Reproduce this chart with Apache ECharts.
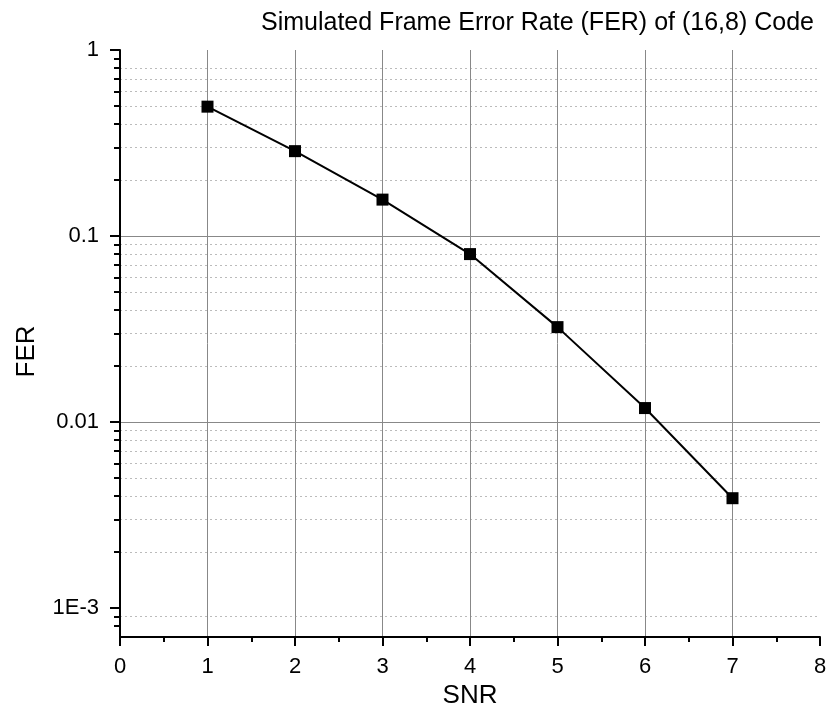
<!DOCTYPE html>
<html>
<head>
<meta charset="utf-8">
<script src="https://cdn.jsdelivr.net/npm/echarts@6/dist/echarts.min.js"></script>
<style>html,body{margin:0;padding:0;background:#fff;}#c{width:829px;height:705px;}</style>
</head>
<body>
<div id="c"></div>
<script>
var snr = [1, 2, 3, 4, 5, 6, 7];
var fer = [0.496, 0.286, 0.157, 0.080, 0.0324, 0.0119, 0.0039];
var majorY = [0.001, 0.01, 0.1, 1];
var minorY = [
  0.0008, 0.0009,
  0.002, 0.003, 0.004, 0.005, 0.006, 0.007, 0.008, 0.009,
  0.02, 0.03, 0.04, 0.05, 0.06, 0.07, 0.08, 0.09,
  0.2, 0.3, 0.4, 0.5, 0.6, 0.7, 0.8, 0.9
];

function yLabel(v) {
  if (Math.abs(v - 0.001) < 1e-9) return '1E-3';
  if (Math.abs(v - 0.01) < 1e-9) return '0.01';
  if (Math.abs(v - 0.1) < 1e-9) return '0.1';
  if (Math.abs(v - 1) < 1e-9) return '1';
  return '';
}

var font = 'Liberation Sans, Arial, sans-serif';
var chart = echarts.init(document.getElementById('c'));
chart.setOption({
  animation: false,
  title: {
    text: 'Simulated Frame Error Rate (FER) of (16,8) Code',
    left: 256, top: 6,
    textStyle: {fontFamily: font, fontSize: 25, fontWeight: 'normal', color: '#000'}
  },
  grid: {left: 120, right: 9, top: 50, bottom: 68, containLabel: false, outerBoundsMode: 'none'},
  xAxis: {
    type: 'value', min: 0, max: 8, interval: 1,
    name: 'SNR', nameLocation: 'middle', nameGap: 41,
    nameTextStyle: {fontFamily: font, fontSize: 26, color: '#000'},
    axisLine: {lineStyle: {color: '#000', width: 2}},
    axisTick: {show: true, inside: false, length: 9, lineStyle: {color: '#000', width: 2}},
    minorTick: {show: true, splitNumber: 2, length: 5, lineStyle: {color: '#000', width: 2}},
    axisLabel: {fontFamily: font, fontSize: 22, color: '#000', margin: 19},
    splitLine: {show: true, showMinLine: false, showMaxLine: false, lineStyle: {color: '#888', width: 1}}
  },
  yAxis: [{
    type: 'log', logBase: 10, min: 0.0007, max: 1,
    name: 'FER', nameLocation: 'middle', nameGap: 80,
    nameTextStyle: {fontFamily: font, fontSize: 26, color: '#000', padding: [0, 16, 0, 0]},
    axisLine: {lineStyle: {color: '#000', width: 2}},
    axisTick: {show: true, length: 10, customValues: majorY, lineStyle: {color: '#000', width: 2}},
    axisLabel: {fontFamily: font, fontSize: 22, color: '#000', margin: 21, customValues: majorY,
      formatter: yLabel},
    splitLine: {show: true, showMinLine: false, showMaxLine: false, lineStyle: {color: '#888', width: 1}}
  }, {
    type: 'log', logBase: 10, min: 0.0007, max: 1, position: 'left',
    axisLine: {show: false},
    axisTick: {show: true, length: 6, customValues: minorY, lineStyle: {color: '#000', width: 2}},
    axisLabel: {show: false},
    splitLine: {show: true, showMinLine: false, showMaxLine: false,
      lineStyle: {color: '#bbb', type: [2, 3], width: 1}}
  }],
  series: [{
    type: 'line',
    data: snr.map(function (x, i) { return [x, fer[i]]; }),
    symbol: 'rect', symbolSize: 12,
    lineStyle: {color: '#000', width: 2},
    itemStyle: {color: '#000'},
    z: 5
  }]
});
</script>
</body>
</html>
